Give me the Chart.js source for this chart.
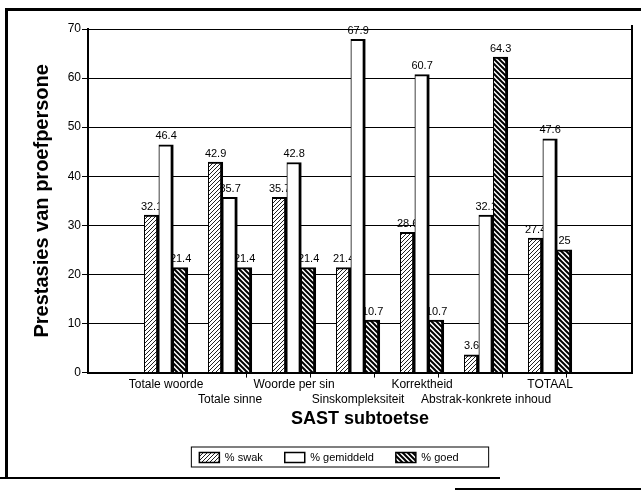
<!DOCTYPE html>
<html>
<head>
<meta charset="utf-8">
<script src="https://cdn.jsdelivr.net/npm/chart.js@4.4.0/dist/chart.umd.min.js"></script>
<style>
  html, body { margin: 0; padding: 0; background: #fff; }
  #wrap { position: relative; width: 641px; height: 492px; overflow: hidden; }
  canvas { position: absolute; left: 0; top: 0; }
  .ln { position: absolute; background: #000; }
</style>
</head>
<body>
<div id="wrap">
  <canvas id="chart" width="641" height="492"></canvas>
  <div class="ln" style="left:5px;top:8px;width:636px;height:3px"></div>
  <div class="ln" style="left:5px;top:8px;width:3px;height:470px"></div>
  <div class="ln" style="left:0;top:477px;width:500px;height:2px"></div>
  <div class="ln" style="left:455px;top:488px;width:186px;height:2px"></div>
</div>
<script>
const categories = [
  "Totale woorde",
  "Totale sinne",
  "Woorde per sin",
  "Sinskompleksiteit",
  "Korrektheid",
  "Abstrak-konkrete inhoud",
  "TOTAAL",
];
const swak = [32.1, 42.9, 35.7, 21.4, 28.6, 3.6, 27.4];
const gemiddeld = [46.4, 35.7, 42.8, 67.9, 60.7, 32.1, 47.6];
const goed = [21.4, 21.4, 21.4, 10.7, 10.7, 64.3, 25];
const seriesNames = ["% swak", "% gemiddeld", "% goed"];
const yTicks = [0, 10, 20, 30, 40, 50, 60, 70];

const FONT = '"Liberation Sans", Arial, sans-serif';

// diagonal hatch fill, dir 1 = "/", dir -1 = "\"
function hatch(dir, width, size, color) {
  const c = document.createElement("canvas");
  c.width = size;
  c.height = size;
  const g = c.getContext("2d");
  g.fillStyle = "#fff";
  g.fillRect(0, 0, size, size);
  g.strokeStyle = color;
  g.lineWidth = width;
  g.beginPath();
  if (dir > 0) {
    g.moveTo(0, size); g.lineTo(size, 0);
    g.moveTo(-1, 1); g.lineTo(1, -1);
    g.moveTo(size - 1, size + 1); g.lineTo(size + 1, size - 1);
  } else {
    g.moveTo(0, 0); g.lineTo(size, size);
    g.moveTo(-1, size - 1); g.lineTo(1, size + 1);
    g.moveTo(size - 1, -1); g.lineTo(size + 1, 1);
  }
  g.stroke();
  return g.createPattern(c, "repeat");
}

const toPoints = (arr) => arr.map((v, i) => ({ x: i, y: v }));

// value labels go under the bars, like the original where bars overlap them
const valueLabels = {
  id: "valueLabels",
  beforeDatasetsDraw(chart) {
    const ctx = chart.ctx;
    ctx.save();
    ctx.font = "11px " + FONT;
    ctx.fillStyle = "#000";
    ctx.textAlign = "center";
    ctx.textBaseline = "bottom";
    chart.data.datasets.forEach((ds, d) => {
      const meta = chart.getDatasetMeta(d);
      meta.data.forEach((bar, i) => {
        const p = bar.getProps(["x", "y"], true);
        ctx.fillText(String(ds.data[i].y), p.x, p.y - 3);
      });
    });
    ctx.restore();
  },
};

const frame = {
  id: "frame",
  afterDraw(chart) {
    const { ctx, chartArea, legend } = chart;
    ctx.save();
    ctx.strokeStyle = "#000";
    ctx.lineWidth = 2;
    ctx.beginPath();
    ctx.moveTo(chartArea.right, chartArea.top - 4);
    ctx.lineTo(chartArea.right, chartArea.bottom);
    ctx.stroke();
    if (legend && legend.legendHitBoxes.length) {
      const hb = legend.legendHitBoxes;
      const x0 = hb[0].left - 8;
      const x1 = hb[hb.length - 1].left + hb[hb.length - 1].width + 30;
      const y0 = hb[0].top - 5;
      const y1 = hb[0].top + hb[0].height + 4;
      ctx.lineWidth = 1;
      ctx.strokeRect(x0, y0, x1 - x0, y1 - y0);
    }
    ctx.restore();
  },
};

const markTicks = [0.5, 1.5, 2.5, 3.5, 4.5, 5.5];

new Chart(document.getElementById("chart"), {
  type: "bar",
  data: {
    datasets: [
      {
        label: seriesNames[0],
        data: toPoints(swak),
        backgroundColor: hatch(1, 1, 4, "#222"),
      },
      {
        label: seriesNames[1],
        data: toPoints(gemiddeld),
        backgroundColor: "#fff",
      },
      {
        label: seriesNames[2],
        data: toPoints(goed),
        backgroundColor: hatch(-1, 2, 5, "#000"),
      },
    ],
  },
  options: {
    responsive: false,
    animation: false,
    devicePixelRatio: 1,
    layout: { padding: { left: 26, right: 9, top: 29, bottom: 19 } },
    datasets: {
      bar: {
        borderColor: "#000",
        borderWidth: { top: 2, left: 1, right: 3, bottom: 0 },
        barThickness: 14.5,
      },
    },
    plugins: {
      tooltip: { enabled: false },
      legend: {
        position: "bottom",
        labels: {
          boxWidth: 20,
          boxHeight: 10,
          padding: 22,
          color: "#000",
          font: { family: FONT, size: 11 },
        },
      },
    },
    scales: {
      x: {
        type: "linear",
        offset: false,
        min: -1.22,
        max: 7.28,
        afterBuildTicks(scale) {
          const vals = categories.map((c, i) => i).concat(markTicks);
          scale.ticks = vals.sort((a, b) => a - b).map((v) => ({ value: v }));
        },
        ticks: {
          autoSkip: false,
          maxRotation: 0,
          minRotation: 0,
          padding: 0,
          color: "#000",
          font: { family: FONT, size: 12 },
          callback(v) {
            if (!Number.isInteger(v)) return "";
            return v % 2 === 1 ? ["", categories[v]] : categories[v];
          },
        },
        grid: {
          drawOnChartArea: false,
          tickLength: 5,
          color: (ctx) =>
            ctx.tick && Number.isInteger(ctx.tick.value) ? "rgba(0,0,0,0)" : "#000",
        },
        border: { color: "#000", width: 2 },
        title: {
          display: true,
          text: "SAST subtoetse",
          color: "#000",
          padding: { top: 2, bottom: 0 },
          font: { family: FONT, size: 18, weight: "bold" },
        },
      },
      y: {
        min: 0,
        max: 70,
        afterBuildTicks(scale) {
          scale.ticks = yTicks.map((v) => ({ value: v }));
        },
        afterFit(scale) {
          scale.width = 62;
        },
        ticks: {
          color: "#000",
          padding: 1,
          font: { family: FONT, size: 12 },
        },
        grid: { color: "#000", lineWidth: 1, tickLength: 6 },
        border: { color: "#000", width: 2 },
        title: {
          display: true,
          text: "Prestasies van proefpersone",
          color: "#000",
          font: { family: FONT, size: 20, weight: "bold" },
        },
      },
    },
  },
  plugins: [valueLabels, frame],
});
</script>
</body>
</html>
